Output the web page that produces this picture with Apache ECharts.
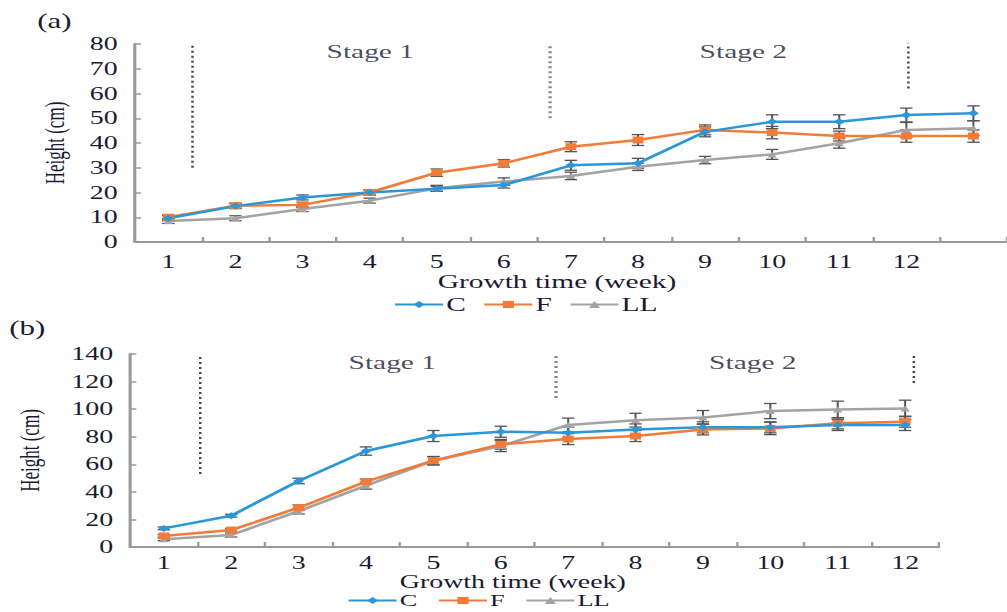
<!DOCTYPE html>
<html>
<head>
<meta charset="utf-8">
<script src="https://cdn.jsdelivr.net/npm/echarts@6/dist/echarts.min.js"></script>
<style>
  html, body { margin: 0; padding: 0; background: #fff; overflow: hidden; }
  /* the source figure is stretched sideways, so draw narrow and stretch it the same way */
  #charts { width: 650px; height: 612px; transform: scaleX(1.5492); transform-origin: 0 0; }
</style>
</head>
<body>
<div id="charts"></div>
<script>
// panel (a): 13 points, only 12 labelled
const weeksA = ["1", "2", "3", "4", "5", "6", "7", "8", "9", "10", "11", "12", ""];
const cA = [9.6, 14.5, 18, 20, 21.5, 23, 31, 31.8, 44.5, 48.6, 48.6, 51.3, 52];
const fA = [10, 14.7, 15, 20, 28, 31.8, 38.5, 41.2, 45.3, 44.2, 42.8, 42.8, 42.8];
const llA = [8.5, 9.6, 13.3, 16.7, 21.7, 24.4, 26.7, 30.4, 33.1, 35.4, 39.9, 45.3, 46];
const cAerr = [1, 1, 1, 1, 1, 1.2, 2, 2, 2, 2.8, 2.8, 2.8, 3];
const fAerr = [1, 1, 1, 1, 1.5, 1.5, 2, 2.2, 2, 2.5, 2, 2.5, 2.5];
const llAerr = [1, 1, 1, 1, 1.2, 1.5, 1.5, 1.5, 1.5, 2, 2, 3, 3];

// panel (b): 12 weeks
const weeksB = ["1", "2", "3", "4", "5", "6", "7", "8", "9", "10", "11", "12"];
const cB = [13.5, 22.7, 47.9, 69.6, 80.5, 83.6, 82.9, 85.3, 86.8, 86.8, 88.5, 88.5];
const fB = [8, 12.3, 28.5, 47.4, 62.6, 74.5, 78.3, 80.5, 85.3, 86, 89.7, 90.9];
const llB = [5.6, 8.7, 26, 44.5, 62.6, 73.2, 88.5, 92, 94, 98.6, 99.8, 100.5];
const cBerr = [1, 1, 2, 3, 4, 4, 4, 4, 4, 4, 4, 4];
const fBerr = [1, 1, 2, 2, 3, 3.5, 4, 4, 4, 4.5, 4, 4];
const llBerr = [1, 1.5, 2, 2.5, 3, 4, 5, 5, 5, 5.5, 6, 6];

// stage dividers: [x (in weeks from axis start), yFrom, yTo]
const dividersA = [[0.86, 30, 81], [6.19, 50, 80], [11.53, 62, 81]];
const dividersB = [[1.04, 53, 138], [6.32, 108, 139], [11.63, 119, 139]];
const stagesA = [[3.51, 76.8, "Stage 1"], [9.07, 76.8, "Stage 2"]];
const stagesB = [[3.89, 134, "Stage 1"], [9.24, 134, "Stage 2"]];

const colC = "#2A97D8";
const colF = "#F27B38";
const colLL = "#A3A3A3";
const serif = "Liberation Serif";
const ink = "#1a1a33";

const chart = echarts.init(document.getElementById("charts"), null, { renderer: "svg" });

function errData(vals, errs) {
  return vals.map((v, i) => [i, v - errs[i], v + errs[i]]);
}

function errSeries(vals, errs, color, xi, yi) {
  return {
    type: "custom",
    xAxisIndex: xi,
    yAxisIndex: yi,
    silent: true,
    z: 1,
    data: errData(vals, errs),
    renderItem: function(params, api) {
      const lo = api.coord([api.value(0), api.value(1)]);
      const hi = api.coord([api.value(0), api.value(2)]);
      const w = 4;
      const st = { stroke: color, lineWidth: 1.3 };
      return {
        type: "group",
        children: [
          { type: "line", shape: { x1: lo[0], y1: lo[1], x2: hi[0], y2: hi[1] }, style: st },
          { type: "line", shape: { x1: lo[0] - w, y1: lo[1], x2: lo[0] + w, y2: lo[1] }, style: st },
          { type: "line", shape: { x1: hi[0] - w, y1: hi[1], x2: hi[0] + w, y2: hi[1] }, style: st }
        ]
      };
    }
  };
}

function lineSeries(name, vals, color, symbol, size, xi, yi) {
  return {
    name: name,
    type: "line",
    xAxisIndex: xi,
    yAxisIndex: yi,
    data: vals,
    symbol: symbol,
    symbolSize: size,
    z: 3,
    lineStyle: { color: color, width: 2.5 },
    itemStyle: { color: color }
  };
}

function dividerSeries(divs, xi, yi) {
  return divs.map(function(d, i) {
    return {
      type: "line",
      xAxisIndex: xi,
      yAxisIndex: yi,
      silent: true,
      symbol: "none",
      data: [[d[0], d[1]], [d[0], d[2]]],
      lineStyle: { color: i === 1 ? "#8a8a8a" : "#444", width: i === 1 ? 2.2 : 1.6, type: [2, 3] }
    };
  });
}

function stageSeries(st, xi, yi) {
  return {
    type: "scatter",
    xAxisIndex: xi,
    yAxisIndex: yi,
    silent: true,
    symbolSize: 0,
    data: st.map(s => ({ value: [s[0], s[1]], name: s[2] })),
    label: {
      show: true,
      position: "inside",
      formatter: p => p.name,
      fontFamily: serif,
      fontSize: 19,
      color: ink
    }
  };
}

const axisLineStyle = { lineStyle: { color: "#9a9a9a", width: 2 } };
const tickText = { fontFamily: serif, fontSize: 18, color: ink };

function catAxis(grid, cats, margin, nameGap, shift, nameSize) {
  return {
    type: "category",
    gridIndex: grid,
    data: cats,
    boundaryGap: true,
    axisLine: axisLineStyle,
    axisTick: { show: true, inside: true, length: 5, lineStyle: { color: "#9a9a9a", width: 1.5 } },
    axisLabel: Object.assign({ margin: margin, lineHeight: 14 }, tickText),
    name: "Growth time (week)",
    nameLocation: "middle",
    nameGap: nameGap,
    nameTextStyle: { fontFamily: serif, fontSize: nameSize, lineHeight: 15, color: ink, padding: [0, shift, 0, 0] }
  };
}

function valAxis(grid, max, step, nameGap) {
  return {
    type: "value",
    gridIndex: grid,
    min: 0,
    max: max,
    interval: step,
    splitLine: { show: false },
    axisLine: Object.assign({ show: true }, axisLineStyle),
    axisTick: { show: true, inside: true, length: 4, lineStyle: { color: "#9a9a9a", width: 1.5 } },
    axisLabel: Object.assign({ margin: 11 }, tickText),
    name: "Height (cm)",
    nameLocation: "middle",
    nameRotate: 90,
    nameGap: nameGap,
    nameTextStyle: { fontFamily: serif, fontSize: 17, color: ink }
  };
}

const legendText = { fontFamily: serif, fontSize: 19, lineHeight: 16, color: ink, padding: [0, 0, 0, -3] };
const legendTextB = { fontFamily: serif, fontSize: 17, lineHeight: 15, color: ink, padding: [0, 0, 0, -3] };

const option = {
  animation: false,
  graphic: [
    { type: "text", left: 24, top: 11, style: { text: "(a)", font: "20px 'Liberation Serif'", fill: ink } },
    { type: "text", left: 6, top: 318, style: { text: "(b)", font: "20px 'Liberation Serif'", fill: ink } }
  ],
  legend: [
    {
      data: ["C", "F", "LL"],
      left: 254,
      top: 295,
      padding: 0,
      itemWidth: 31,
      itemHeight: 9,
      itemGap: 11,
      textStyle: legendText
    },
    {
      data: ["C", "F", "LL"],
      left: 224,
      top: 592,
      padding: 0,
      itemWidth: 31,
      itemHeight: 9,
      itemGap: 13,
      textStyle: legendTextB
    }
  ],
  grid: [
    { left: 87, top: 44, height: 198, right: -3 },
    { left: 84, top: 354, height: 193, width: 522 }
  ],
  xAxis: [
    catAxis(0, weeksA, 13, 32, 18, 19),
    { type: "value", gridIndex: 0, min: 0, max: 13, show: false },
    catAxis(1, weeksB, 9, 23, 28, 18),
    { type: "value", gridIndex: 1, min: 0, max: 12, show: false }
  ],
  yAxis: [valAxis(0, 80, 10, 43), valAxis(1, 140, 20, 56)],
  series: [
    errSeries(cA, cAerr, "#555", 0, 0),
    errSeries(fA, fAerr, "#555", 0, 0),
    errSeries(llA, llAerr, "#555", 0, 0),
    lineSeries("LL", llA, colLL, "triangle", 6, 0, 0),
    lineSeries("F", fA, colF, "rect", 7, 0, 0),
    lineSeries("C", cA, colC, "diamond", 7, 0, 0),
    errSeries(cB, cBerr, "#555", 2, 1),
    errSeries(fB, fBerr, "#555", 2, 1),
    errSeries(llB, llBerr, "#555", 2, 1),
    lineSeries("LL", llB, colLL, "triangle", 6, 2, 1),
    lineSeries("F", fB, colF, "rect", 7, 2, 1),
    lineSeries("C", cB, colC, "diamond", 7, 2, 1),
    stageSeries(stagesA, 1, 0),
    stageSeries(stagesB, 3, 1)
  ].concat(dividerSeries(dividersA, 1, 0), dividerSeries(dividersB, 3, 1))
};

chart.setOption(option);
window.onresize = function() {
  chart.resize();
};
</script>
</body>
</html>
